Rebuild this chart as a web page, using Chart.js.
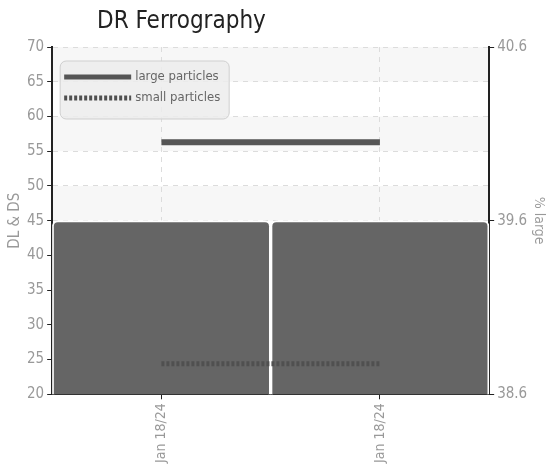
<!DOCTYPE html>
<html>
<head>
<meta charset="utf-8">
<script src="https://cdn.jsdelivr.net/npm/chart.js@4/dist/chart.umd.min.js"></script>
<style>
    html, body { margin: 0; padding: 0; background: #fff; }
    #wrap { position: relative; width: 551px; height: 476px; }
    #title {
        position: absolute; left: 97px; top: 5px;
        font-family: 'DejaVu Sans Condensed', sans-serif;
        font-size: 24px; color: #222; line-height: 30px;
    }
</style>
</head>
<body>
<div id="wrap">
    <div id="title">DR Ferrography</div>
    <canvas id="ferroChart" width="551" height="476"></canvas>
</div>
<script>
// chart values
const labels = ['Jan 18/24', 'Jan 18/24'];
const largeParticles = [56.3, 56.3];
const smallParticles = [24.4, 24.4];
const percentLarge = [39.6, 39.6];

const leftTicks = { min: 20, max: 70, step: 5 };
const rightTicks = { min: 38.6, max: 40.6, step: 1 };

const FONT = "'DejaVu Sans Condensed', sans-serif";

// alternating light bands behind the plot, following the left axis ticks
const stripes = {
    id: 'stripes',
    beforeDraw(chart) {
        const { ctx, chartArea } = chart;
        const y = chart.scales.y;
        const ticks = y.ticks;
        ctx.save();
        ctx.fillStyle = '#f7f7f7';
        for (let i = ticks.length - 1, n = 0; i > 0; i--, n++) {
            if (n % 2 !== 0) continue;
            const top = y.getPixelForValue(ticks[i].value);
            const bot = y.getPixelForValue(ticks[i - 1].value);
            ctx.fillRect(chartArea.left, top, chartArea.right - chartArea.left, bot - top);
        }
        ctx.restore();
    }
};

// legend box drawn inside the plot, top left
const insideLegend = {
    id: 'insideLegend',
    afterDatasetsDraw(chart) {
        const { ctx, chartArea } = chart;
        const x = chartArea.left + 8, y = chartArea.top + 14;
        const w = 169, h = 58;
        ctx.save();
        ctx.beginPath();
        ctx.roundRect(x, y, w, h, 6);
        ctx.fillStyle = 'rgba(236,236,236,0.85)';
        ctx.fill();
        ctx.strokeStyle = '#cfcfcf';
        ctx.lineWidth = 1;
        ctx.stroke();
        const items = chart.data.datasets.filter(d => d.type === 'line');
        items.forEach((ds, i) => {
            const ly = y + 16 + i * 21;
            ctx.beginPath();
            ctx.setLineDash(ds.borderDash || []);
            ctx.strokeStyle = ds.borderColor;
            ctx.lineWidth = 5;
            ctx.moveTo(x + 4, ly);
            ctx.lineTo(x + 71, ly);
            ctx.stroke();
            ctx.setLineDash([]);
            ctx.fillStyle = '#666';
            ctx.font = '13px ' + FONT;
            ctx.textBaseline = 'middle';
            ctx.fillText(ds.label, x + 75, ly);
        });
        ctx.restore();
    }
};

const ctx = document.getElementById('ferroChart').getContext('2d');
new Chart(ctx, {
    data: {
        labels,
        datasets: [
            {
                type: 'line',
                label: 'large particles',
                data: largeParticles,
                yAxisID: 'y',
                borderColor: '#555555',
                borderWidth: 6,
                pointRadius: 0,
                order: 0
            },
            {
                type: 'line',
                label: 'small particles',
                data: smallParticles,
                yAxisID: 'y',
                borderColor: '#505050',
                borderWidth: 5,
                borderDash: [3, 2],
                pointRadius: 0,
                order: 0
            },
            {
                type: 'bar',
                label: '% large',
                data: percentLarge,
                yAxisID: 'y1',
                backgroundColor: '#656565',
                borderColor: '#ffffff',
                borderWidth: 2,
                borderSkipped: false,
                borderRadius: 6,
                barPercentage: 1,
                categoryPercentage: 1,
                order: 1
            }
        ]
    },
    options: {
        responsive: false,
        animation: false,
        layout: { padding: { top: 47, left: 6, right: 0, bottom: 9 } },
        plugins: {
            legend: { display: false },
            title: { display: false },
            tooltip: { enabled: false }
        },
        scales: {
            x: {
                type: 'category',
                offset: true,
                grid: {
                    offset: false,
                    color: '#dcdcdc',
                    tickColor: '#222',
                    tickLength: 5
                },
                border: { color: '#222', width: 2, dash: [5, 5] },
                ticks: {
                    minRotation: 90,
                    maxRotation: 90,
                    color: '#999',
                    padding: 4,
                    font: { family: FONT, size: 14 }
                }
            },
            y: {
                position: 'left',
                min: leftTicks.min,
                max: leftTicks.max,
                ticks: {
                    stepSize: leftTicks.step,
                    color: '#999',
                    padding: 3,
                    font: { family: FONT, size: 15 }
                },
                grid: {
                    color: '#dcdcdc',
                    tickColor: '#222',
                    tickLength: 5
                },
                border: { color: '#222', width: 2, dash: [5, 5] },
                title: {
                    display: true,
                    text: 'DL & DS',
                    color: '#999',
                    padding: 0,
                    font: { family: FONT, size: 15 }
                }
            },
            y1: {
                position: 'right',
                min: rightTicks.min,
                max: rightTicks.max,
                ticks: {
                    stepSize: rightTicks.step,
                    color: '#999',
                    padding: 3,
                    font: { family: FONT, size: 15 }
                },
                grid: {
                    drawOnChartArea: false,
                    tickColor: '#222',
                    tickLength: 5
                },
                border: { color: '#222', width: 2 },
                title: {
                    display: true,
                    text: '% large',
                    color: '#999',
                    padding: { top: 4, bottom: 0 },
                    font: { family: FONT, size: 14 }
                }
            }
        }
    },
    plugins: [stripes, insideLegend]
});
</script>
</body>
</html>
